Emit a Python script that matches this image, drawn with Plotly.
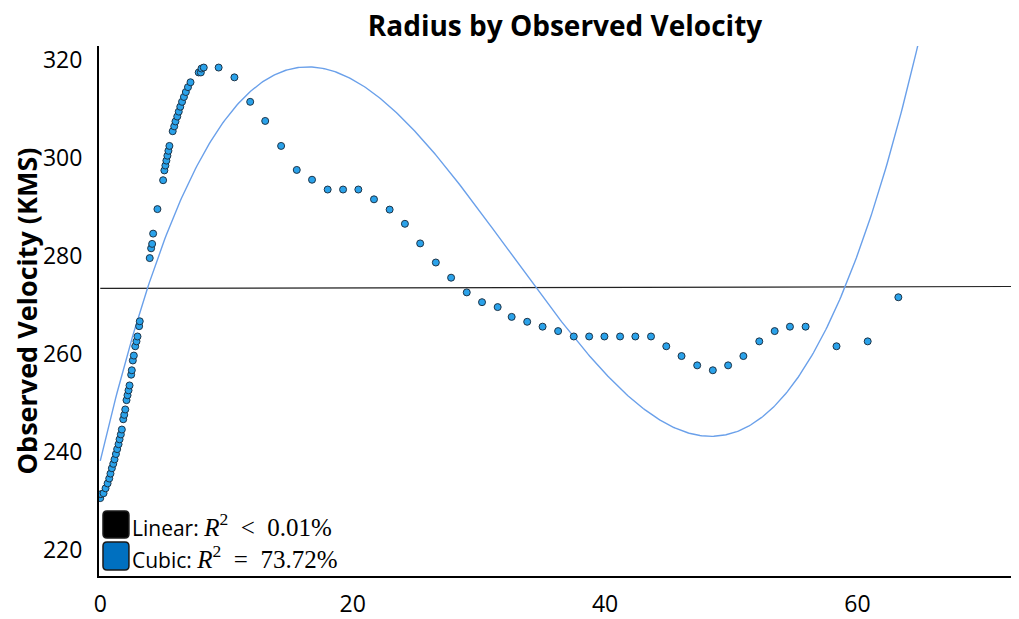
import numpy as np
import plotly.graph_objects as go

# ---- data ----
radius = [
    0.00, 0.05, 0.26, 0.42, 0.58, 0.71, 0.81, 0.92, 1.03, 1.13, 1.24, 1.34, 1.45, 1.53,
    1.63, 1.71, 1.82, 1.90, 1.98, 2.08, 2.16, 2.24, 2.32, 2.45, 2.50, 2.58, 2.66, 2.77,
    2.87, 2.95, 3.08, 3.13, 3.92, 4.03, 4.11, 4.19, 4.53, 4.98, 5.08, 5.16, 5.24, 5.32,
    5.40, 5.48, 5.74, 5.86, 5.96, 6.10, 6.22, 6.34, 6.48, 6.63, 6.78, 6.95, 7.15, 7.80,
    7.97, 8.02, 8.20, 9.38, 10.63, 11.88, 13.07, 14.33, 15.57, 16.78, 18.02, 19.24,
    20.45, 21.69, 22.93, 24.14, 25.35, 26.59, 27.80, 29.04, 30.25, 31.49, 32.60, 33.83,
    35.05, 36.28, 37.52, 38.74, 39.95, 41.19, 42.40, 43.64, 44.85, 46.06, 47.30, 48.54,
    49.75, 50.96, 52.22, 53.44, 54.65, 55.89, 58.34, 60.81, 63.24,
]
velocity = [
    230.6, 231.4, 231.6, 232.6, 233.6, 234.6, 235.6, 236.7, 237.6, 238.5, 239.6, 240.6, 241.6, 242.6,
    243.6, 244.6, 246.7, 247.6, 248.7, 250.6, 251.6, 252.6, 253.6, 255.8, 256.7, 258.7, 259.7, 261.6,
    262.6, 263.6, 265.7, 266.7, 279.6, 281.6, 282.5, 284.6, 289.6, 295.5, 297.5, 298.5, 299.5, 300.5,
    301.5, 302.5, 305.5, 306.5, 307.5, 308.5, 309.5, 310.5, 311.5, 312.5, 313.5, 314.5, 315.5, 317.5,
    317.5, 318.3, 318.5, 318.5, 316.5, 311.5, 307.6, 302.5, 297.6, 295.6, 293.6, 293.6,
    293.6, 291.6, 289.5, 286.6, 282.6, 278.7, 275.6, 272.6, 270.6, 269.6, 267.6, 266.6,
    265.6, 264.7, 263.6, 263.6, 263.6, 263.6, 263.6, 263.6, 261.6, 259.6, 257.7, 256.7,
    257.7, 259.6, 262.6, 264.7, 265.6, 265.6, 261.6, 262.6, 271.6,
]
# fitted curves as drawn in the reference (polynomial coefficients, highest power first)
linear_coef = [0.0056, 273.4]
cubic_coef = [0.0046218, -0.44951, 11.0328, 238.21]

x_ticks = [0, 20, 40, 60]
y_ticks = [220, 240, 260, 280, 300, 320]
title_text = "Radius by Observed Velocity"
y_title = "Observed Velocity (KMS)"
legend_labels = ["Linear: ", "Cubic: "]
legend_math = ["<i>R</i><sup>2</sup>&nbsp;&nbsp;&lt;&nbsp;&nbsp;0.01%",
               "<i>R</i><sup>2</sup>&nbsp;&nbsp;=&nbsp;&nbsp;73.72%"]
legend_colors = ["#000000", "#0070c0"]

X_RANGE = [-0.1, 72.8]
Y_RANGE = [214.7, 322.9]

xs_lin = np.array([0.0, X_RANGE[1]])
xs_cub = np.linspace(0.0, X_RANGE[1], 600)

fig = go.Figure()
fig.add_trace(go.Scatter(
    x=xs_lin, y=np.polyval(linear_coef, xs_lin), mode="lines",
    line=dict(color="#222222", width=1.2), showlegend=False, hoverinfo="skip"))
fig.add_trace(go.Scatter(
    x=xs_cub, y=np.polyval(cubic_coef, xs_cub), mode="lines",
    line=dict(color="#6aa0ea", width=1.4), showlegend=False, hoverinfo="skip"))
fig.add_trace(go.Scatter(
    x=radius, y=velocity, mode="markers",
    marker=dict(size=7, color="#2aa2ea", line=dict(color="#1d3448", width=1)),
    showlegend=False))

# ---- layout geometry (page pixels; page body has an 8px margin) ----
W, H = 1019, 619
OFF = 8
PL, PR, PT, PB = 97, 1019, 46, 577          # desired plot box on the page
ML, MT = PL - OFF, PT - OFF
MR = W - (PR - OFF)
MB = H - (PB - OFF)
PW, PH = PR - PL, PB - PT


def px2paper(px, py):
    return (px - PL) / PW, (PB - py) / PH


def rounded_rect(x0, y0, x1, y1, rad):
    def p(x, y):
        a, b = px2paper(x, y)
        return f"{a:.5f},{b:.5f}"
    return (f"M {p(x0 + rad, y0)} L {p(x1 - rad, y0)} Q {p(x1, y0)} {p(x1, y0 + rad)} "
            f"L {p(x1, y1 - rad)} Q {p(x1, y1)} {p(x1 - rad, y1)} "
            f"L {p(x0 + rad, y1)} Q {p(x0, y1)} {p(x0, y1 - rad)} "
            f"L {p(x0, y0 + rad)} Q {p(x0, y0)} {p(x0 + rad, y0)} Z")

shapes = []
annotations = []
rows_y = [(512, 539), (543, 571)]
for (y0, y1), col, lab, mth in zip(rows_y, legend_colors, legend_labels, legend_math):
    shapes.append(dict(type="path", xref="paper", yref="paper",
                       path=rounded_rect(101, y0, 127, y1, 4),
                       fillcolor=col, line=dict(color="#1a1a1a", width=1.5)))
    ax, ay = px2paper(128, (y0 + y1) / 2 + 1)
    annotations.append(dict(
        xref="paper", yref="paper", x=ax, y=ay, xanchor="left", yanchor="middle",
        showarrow=False,
        text=f"{lab}<span style='font-family:Liberation Serif;font-size:25px'>{mth}</span>",
        font=dict(family="Open Sans", size=21, color="#000000")))

fig.update_layout(
    width=W, height=H,
    margin=dict(l=ML, r=MR, t=MT, b=MB, pad=0),
    paper_bgcolor="white", plot_bgcolor="white",
    title=dict(text=f"<b>{title_text}</b>", x=(565 - OFF) / W, xanchor="center",
               y=1 - (26 - OFF) / H, yanchor="middle",
               font=dict(family="Open Sans", size=28, color="#000000")),
    xaxis=dict(range=X_RANGE, tickvals=x_ticks, showgrid=False, zeroline=False,
               showline=True, linecolor="black", linewidth=2, ticks="",
               ticklabelstandoff=6,
               tickfont=dict(family="Open Sans", size=23, color="#000000")),
    yaxis=dict(range=Y_RANGE, tickvals=y_ticks, showgrid=False, zeroline=False,
               showline=True, linecolor="black", linewidth=2, ticks="",
               ticklabelstandoff=10,
               title=dict(text=f"<b>{y_title}</b>", standoff=8,
                          font=dict(family="Open Sans", size=27, color="#000000")),
               tickfont=dict(family="Open Sans", size=23, color="#000000")),
    shapes=shapes, annotations=annotations,
)

fig.write_html("out.html")
